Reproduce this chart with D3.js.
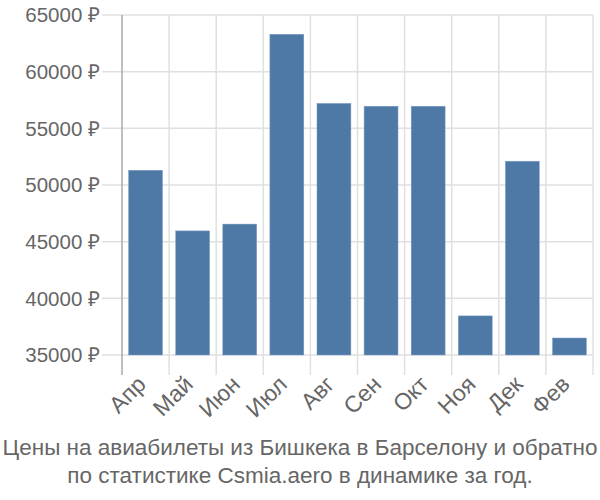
<!DOCTYPE html>
<html><head><meta charset="utf-8">
<script src="https://cdn.jsdelivr.net/npm/d3@7"></script>
<style>body{margin:0;background:#fff}svg{display:block}text{font-family:"Liberation Sans",Arial,sans-serif}</style>
</head><body>
<svg id="chart" width="600" height="500"></svg>
<script>
const months = ["Апр","Май","Июн","Июл","Авг","Сен","Окт","Ноя","Дек","Фев"];
const prices = [51300, 45950, 46550, 63300, 57200, 56950, 56950, 38450, 52100, 36500];
const yTicks = [35000, 40000, 45000, 50000, 55000, 60000, 65000];
const titleLines = ["Цены на авиабилеты из Бишкека в Барселону и обратно", "по статистике Csmia.aero в динамике за год."];

const svg = d3.select("#chart");
const x = d3.scaleBand().domain(months).range([122, 593]).paddingInner(0.28).paddingOuter(0.14);
const y = d3.scaleLinear().domain([35000, 65000]).range([355, 15]);

// horizontal grid
svg.append("g").selectAll("line").data(yTicks).join("line")
  .attr("x1", 102).attr("x2", 593)
  .attr("y1", d => y(d)).attr("y2", d => y(d))
  .attr("stroke", "#e0e0e0").attr("stroke-width", 1.5);

// vertical grid at band boundaries
const step = x.step();
const bounds = months.map((m, i) => 122 + i * step).concat([593]);
svg.append("g").selectAll("line").data(bounds.slice(1)).join("line")
  .attr("x1", d => d).attr("x2", d => d)
  .attr("y1", 15).attr("y2", 375)
  .attr("stroke", "#e0e0e0").attr("stroke-width", 1.5);

// y axis line
svg.append("line").attr("x1", 122).attr("x2", 122).attr("y1", 15).attr("y2", 375)
  .attr("stroke", "#aaa").attr("stroke-width", 1.5);

// bars
svg.append("g").selectAll("rect").data(months).join("rect")
  .attr("x", d => x(d)).attr("width", x.bandwidth())
  .attr("y", (d, i) => y(prices[i]))
  .attr("height", (d, i) => y(35000) - y(prices[i]))
  .attr("fill", "#4e79a7").attr("stroke", "#7f9fc4").attr("stroke-width", 0.5);

// y labels
svg.append("g").selectAll("text").data(yTicks).join("text")
  .attr("x", 100).attr("y", d => y(d)).attr("dy", "0.35em")
  .attr("text-anchor", "end").attr("font-size", 20.5).attr("fill", "#666")
  .text(d => d + " ₽");

// x labels
svg.append("g").selectAll("text").data(months).join("text")
  .attr("text-anchor", "end").attr("font-size", 23).attr("fill", "#666")
  .attr("transform", d => `translate(${x(d) + x.bandwidth() / 2 - 4},${380}) rotate(-45)`)
  .attr("dy", "0.35em")
  .text(d => d);

// title
svg.append("g").selectAll("text").data(titleLines).join("text")
  .attr("x", 300).attr("y", (d, i) => 455 + i * 28)
  .attr("text-anchor", "middle").attr("font-size", 22.5).attr("fill", "#666")
  .text(d => d);
</script>
</body></html>
